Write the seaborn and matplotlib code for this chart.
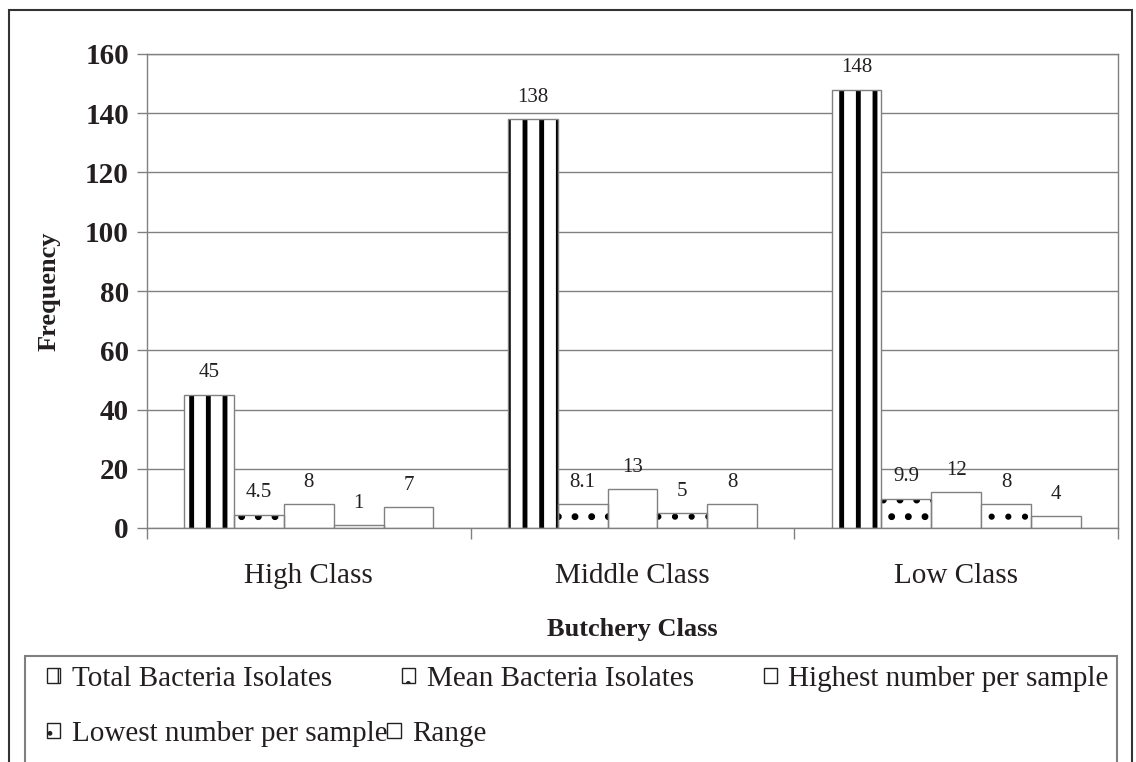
import pandas as pd
import matplotlib.pyplot as plt
import matplotlib.patches as mpatches
import seaborn as sns

# dados
classes = ["High Class", "Middle Class", "Low Class"]
series = ["Total Bacteria Isolates", "Mean Bacteria Isolates",
          "Highest number per sample", "Lowest number per sample", "Range"]
total_isolates = [45, 138, 148]
mean_isolates = [4.5, 8.1, 9.9]
highest_sample = [8, 13, 12]
lowest_sample = [1, 5, 8]
range_values = [7, 8, 4]
y_ticks = [0, 20, 40, 60, 80, 100, 120, 140, 160]

hatches = ["|", ".", "", ".", ""]
hatch_lw = [3.5, 2.5, 1.0, 2.0, 1.0]

sns.set_theme(style="white")
plt.rcParams['font.family'] = ['Liberation Serif', 'DejaVu Serif']
plt.rcParams['hatch.color'] = 'black'
text_color = '#231f20'
grey = '#808080'

valores = [total_isolates, mean_isolates, highest_sample, lowest_sample, range_values]
linhas = []
for nome, vals in zip(series, valores):
    for classe, v in zip(classes, vals):
        linhas.append({'Butchery Class': classe, 'Frequency': v, 'Serie': nome})
df = pd.DataFrame(linhas)

W, H = 1136, 762
fig = plt.figure(figsize=(W / 100, H / 100), dpi=100)
ax = fig.add_axes([147 / W, 1 - 528 / H, (1118 - 147) / W, (528 - 54) / H])

sns.barplot(data=df, x='Butchery Class', y='Frequency', hue='Serie',
            hue_order=series, order=classes, palette=['white'] * 5,
            edgecolor=grey, linewidth=1, width=0.77, legend=False, ax=ax)

for cont, h, lw in zip(ax.containers, hatches, hatch_lw):
    for barra in cont:
        if h:
            # hachura preta; contorno cinza desenhado por cima
            barra.set_hatch(h)
            barra.set_edgecolor('black')
            barra.set_linewidth(0)
            if hasattr(barra, 'set_hatch_linewidth'):
                barra.set_hatch_linewidth(lw)
            contorno = mpatches.Rectangle(barra.get_xy(), barra.get_width(), barra.get_height(),
                                          fill=False, edgecolor=grey, linewidth=1, zorder=barra.get_zorder() + 0.1)
            ax.add_patch(contorno)
    ax.bar_label(cont, fmt='%g', padding=9, fontsize=15, color=text_color)

# eixos
ax.set_ylim(0, 160)
ax.set_yticks(y_ticks)
ax.set_yticklabels([str(t) for t in y_ticks], fontsize=21, fontweight='bold', color=text_color)
ax.yaxis.grid(True, color=grey, linewidth=1)
ax.set_axisbelow(True)
ax.tick_params(axis='y', length=7, width=1, color=grey, direction='out', left=True, pad=6)
ax.set_xlim(-0.5, 2.5)
ax.set_xticks([0, 1, 2])
ax.set_xticklabels(classes, fontsize=21, color=text_color)
ax.set_xticks([-0.5, 0.5, 1.5, 2.5], minor=True)
ax.tick_params(axis='x', which='major', length=0, pad=25)
ax.tick_params(axis='x', which='minor', length=8, width=1, color=grey, direction='out', bottom=True)
for s in ax.spines.values():
    s.set_visible(True)
    s.set_color(grey)
    s.set_linewidth(1)

ax.set_xlabel('Butchery Class', fontsize=19, fontweight='bold', color=text_color, labelpad=21)
ax.set_ylabel('Frequency', fontsize=19, fontweight='bold', color=text_color, labelpad=18)

# moldura externa e caixa da legenda
fig.add_artist(mpatches.Rectangle((9 / W, -0.2), (1132 - 9) / W, 1.2 - 10 / H,
                                  transform=fig.transFigure, fill=False,
                                  edgecolor='#333333', linewidth=1.5))
fig.add_artist(mpatches.Rectangle((25 / W, -0.2), (1117 - 25) / W, 0.2 + 1 - 656 / H,
                                  transform=fig.transFigure, fill=False,
                                  edgecolor=grey, linewidth=1.5))

handles = []
for nome, h in zip(series, hatches):
    p = mpatches.Patch(facecolor='white', edgecolor='#222222', hatch=h, label=nome, linewidth=1)
    handles.append(p)

estilo = dict(frameon=False, fontsize=21, handlelength=0.45, handleheight=0.45,
              handletextpad=0.4, borderpad=0, borderaxespad=0, labelcolor=text_color)
leg1 = fig.legend(handles=handles[:3], loc='upper left', ncol=3, columnspacing=2.4,
                  bbox_to_anchor=(47 / W, 1 - 666 / H), **estilo)
leg2 = fig.legend(handles=handles[3:], loc='upper left', ncol=2, columnspacing=0.0,
                  bbox_to_anchor=(47 / W, 1 - 721 / H), **estilo)

plt.savefig('out.png', dpi=100)
